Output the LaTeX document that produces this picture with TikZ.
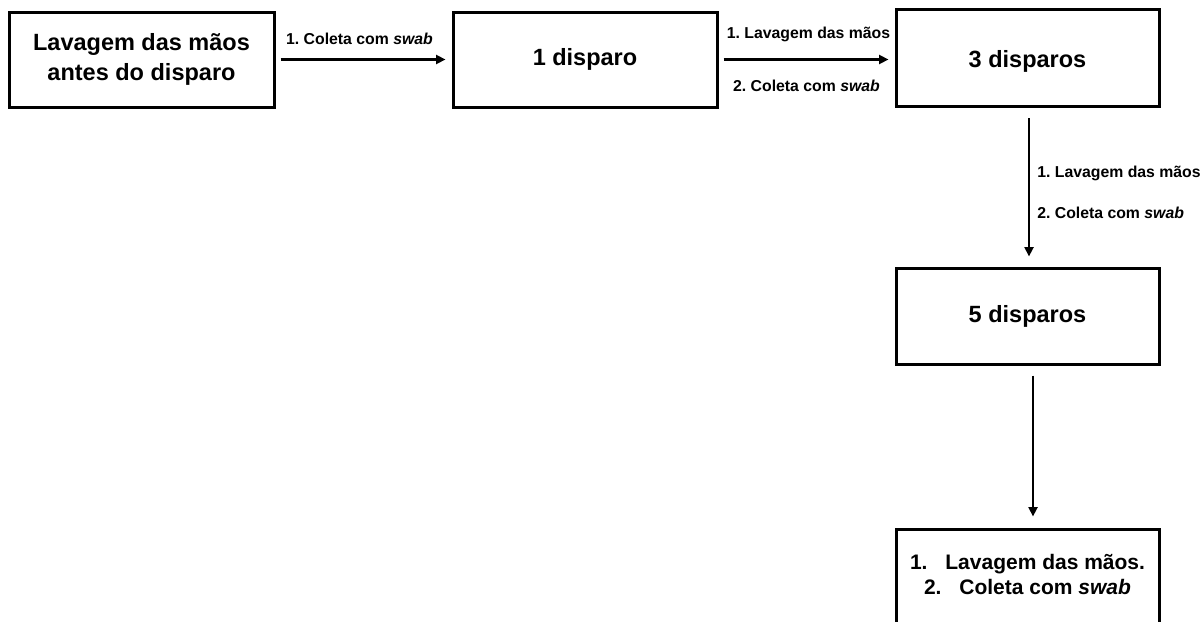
\documentclass[tikz,border=0pt]{standalone}
\usepackage{fontspec}
\setmainfont{Liberation Sans}
\usetikzlibrary{arrows.meta}
\frenchspacing
\tikzset{
  box/.style={draw=black, line width=3pt, fill=white, align=center, inner sep=0pt,
    font=\fontsize{23.5}{30}\selectfont\bfseries},
  conn/.style={line width=2.6pt, -{Triangle[length=9.5pt,width=9pt]}},
  lbl/.style={font=\fontsize{15.8}{19}\selectfont\bfseries, inner sep=0pt},
}
\begin{document}
\begin{tikzpicture}[x=1pt,y=-1pt]
\clip (0,0) rectangle (1201,621);
\fill[white] (0,0) rectangle (1201,621);
\node[box, minimum width=265pt, minimum height=95pt] (A) at (141.5,59.5) {Lavagem das mãos\\antes do disparo};
\node[box, minimum width=264pt, minimum height=95pt] (B) at (585,59.5) {1 disparo};
\node[box, minimum width=263pt, minimum height=97pt] (C) at (1027.5,58) {\raisebox{-3pt}[\height][\depth]{3 disparos}};
\node[box, minimum width=263pt, minimum height=96pt] (D) at (1027.5,316) {5 disparos};
\node[box, minimum width=263pt, minimum height=96pt, font=\fontsize{21}{25}\selectfont\bfseries] (E) at (1027.5,577) {\raisebox{0.5pt}[\height][\depth]{\begin{tabular}{@{}c@{}}1.\hspace{0.85em}Lavagem das mãos.\\2.\hspace{0.85em}Coleta com \textit{swab}\end{tabular}}};
\draw[conn, shorten <=5pt, shorten >=6pt] (A.east) -- node[lbl, midway, yshift=21pt, xshift=-4pt] (l1) {1. Coleta com \textit{swab}} (B.west);
\draw[conn, shorten <=5pt, shorten >=6pt] (B.east) --
  node[lbl, midway, yshift=25pt, xshift=2pt] (l2) {1. Lavagem das mãos}
  node[lbl, midway, yshift=-26pt, xshift=0pt] (l3) {2. Coleta com \textit{swab}} (B.east -| C.west);
\draw[conn, shorten <=10pt, shorten >=10pt] ([xshift=1.5pt]C.south) --
  node[lbl, pos=0.41, anchor=west, xshift=7pt] (l4) {1. Lavagem das mãos}
  node[lbl, pos=0.66, anchor=west, xshift=7pt] (l5) {2. Coleta com \textit{swab}} ([xshift=1.5pt]D.north);
\draw[conn, shorten <=10pt, shorten >=11pt] ([xshift=5.5pt]D.south) -- ([xshift=5.5pt]E.north);
\end{tikzpicture}
\end{document}
